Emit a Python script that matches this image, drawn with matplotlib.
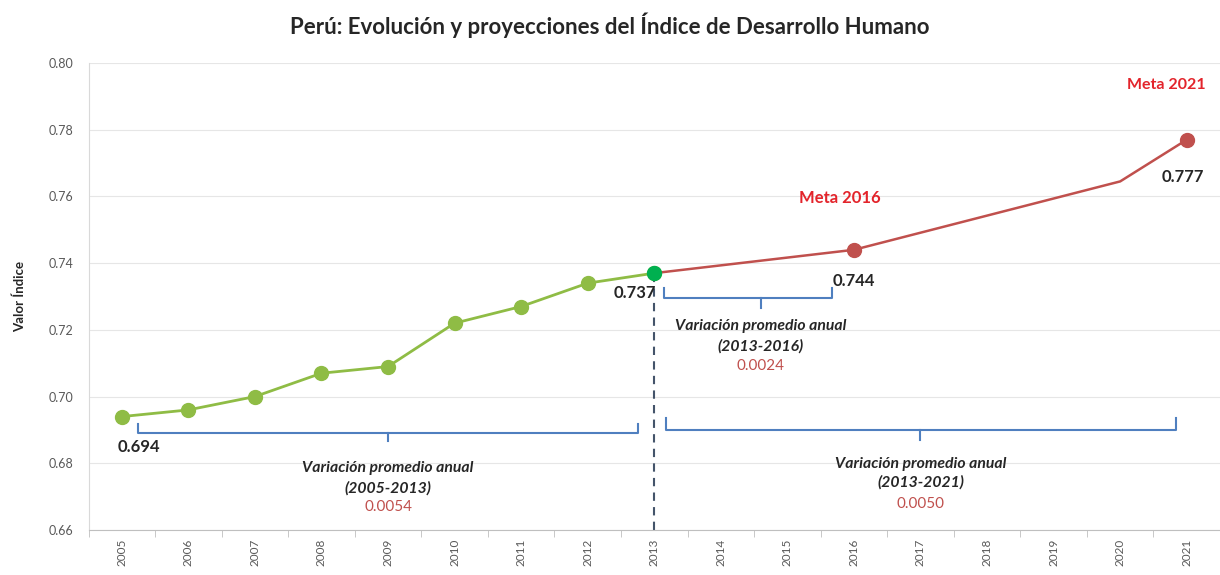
import matplotlib
matplotlib.use("Agg")
import matplotlib.pyplot as plt
import numpy as np

plt.rcParams['font.family'] = ['Lato', 'DejaVu Sans']

years = [str(y) for y in range(2005, 2022)]
hist_years = ["2005", "2006", "2007", "2008", "2009", "2010", "2011", "2012", "2013"]
hist_vals = [0.694, 0.696, 0.700, 0.707, 0.709, 0.722, 0.727, 0.734, 0.737]
proj_years = ["2013", "2016", "2020", "2021"]
proj_vals = [0.737, 0.744, 0.7645, 0.777]
meta_years = ["2016", "2021"]
meta_vals = [0.744, 0.777]
var_labels = ["0.0054", "0.0024", "0.0050"]
var_periods = ["(2005-2013)", "(2013-2016)", "(2013-2021)"]

idx = {y: i for i, y in enumerate(years)}
hx = [idx[y] for y in hist_years]
px = [idx[y] for y in proj_years]
mx = [idx[y] for y in meta_years]

GREEN = "#8fbc45"
BRIGHT = "#00b050"
RED = "#c0504d"
BLUE = "#4f7fbf"
DARK = "#262626"

fig = plt.figure(figsize=(12.2, 5.75), dpi=100)
ax = fig.add_axes([88.5/1220, 1-530/575, (1220-88.5)/1220, (530-63)/575])
ax.set_xlim(-0.5, 16.2)
ax.set_ylim(0.66, 0.80)

yt = np.arange(0.66, 0.8001, 0.02)
ax.set_yticks(yt)
ax.set_yticklabels([f"{v:.2f}" for v in yt], fontsize=9, color="#595959")
ax.set_xticks(range(len(years)))
ax.set_xticklabels(years, rotation=90, fontsize=8.5, color="#595959")
ax.set_xticks(np.arange(-0.5, len(years), 1), minor=True)
ax.tick_params(axis='x', which='major', length=0, pad=6)
ax.tick_params(axis='x', which='minor', length=5, color="#bfbfbf")
ax.tick_params(axis='y', length=0, pad=11)
ax.grid(axis='y', color="#e6e6e6", linewidth=0.8)
ax.set_axisbelow(True)
for s in ["top", "right"]:
    ax.spines[s].set_visible(False)
ax.spines["left"].set_color("#d9d9d9")
ax.spines["bottom"].set_color("#bfbfbf")

ax.set_ylabel("Valor Índice", fontsize=9.5, fontweight="bold", color=DARK, labelpad=16)

# lines
ax.plot(hx, hist_vals, color=GREEN, lw=2, marker="o", ms=10, mfc=GREEN, mec=GREEN, zorder=3)
ax.plot(px, proj_vals, color=RED, lw=1.8, zorder=3)
ax.plot(mx, meta_vals, ls="none", marker="o", ms=10, color=RED, zorder=4)
ax.plot([hx[-1]], [hist_vals[-1]], ls="none", marker="o", ms=10, color=BRIGHT, zorder=5)

# dashed vertical at 2013
ax.plot([idx["2013"], idx["2013"]], [0.66, hist_vals[-1]], ls=(0, (4, 3)), color="#44546a", lw=1.5, zorder=2)

# brackets
def bracket(x0, x1, ytop, yline, ytick, xm):
    ax.plot([x0, x0, x1, x1], [ytop, yline, yline, ytop], color=BLUE, lw=1.5)
    ax.plot([xm, xm], [yline, ytick], color=BLUE, lw=1.5)

bracket(0.24, 7.76, 0.6917, 0.6891, 0.6866, 4.0)
bracket(8.14, 10.67, 0.7325, 0.7296, 0.7266, 9.6)
bracket(8.17, 15.84, 0.6935, 0.6900, 0.6870, 12.0)

def vtext(xc, y1, y2, y3, period, val):
    ax.text(xc, y1, "Variación promedio anual", ha="center", va="center", fontsize=11.3,
            fontweight="bold", fontstyle="italic", color=DARK)
    ax.text(xc, y2, period, ha="center", va="center", fontsize=11.3,
            fontweight="bold", fontstyle="italic", color=DARK)
    ax.text(xc, y3, val, ha="center", va="center", fontsize=11, color=RED)

vtext(4.0, 0.6787, 0.6724, 0.6670, var_periods[0], var_labels[0])
vtext(9.6, 0.7212, 0.7149, 0.7092, var_periods[1], var_labels[1])
vtext(12.0, 0.6799, 0.6742, 0.6679, var_periods[2], var_labels[2])

# value labels
ax.text(-0.06, 0.6848, f"{hist_vals[0]:.3f}", ha="left", va="center", fontsize=12, fontweight="bold", color=DARK)
ax.text(8.03, 0.7310, f"{hist_vals[-1]:.3f}", ha="right", va="center", fontsize=12, fontweight="bold", color=DARK)
ax.text(10.68, 0.7346, f"{meta_vals[0]:.3f}", ha="left", va="center", fontsize=12, fontweight="bold", color=DARK)
ax.text(15.63, 0.7658, f"{meta_vals[1]:.3f}", ha="left", va="center", fontsize=12, fontweight="bold", color=DARK)
ax.text(10.18, 0.7595, "Meta " + meta_years[0], ha="left", va="center", fontsize=12, fontweight="bold", color="#e3242b")
ax.text(16.28, 0.7934, "Meta " + meta_years[1], ha="right", va="center", fontsize=11.5, fontweight="bold", color="#e3242b")

fig.text(0.5, 1-25/575, "Perú: Evolución y proyecciones del Índice de Desarrollo Humano",
         ha="center", va="center", fontsize=16, fontweight="bold", color=DARK)

fig.savefig("out.png", dpi=100)
